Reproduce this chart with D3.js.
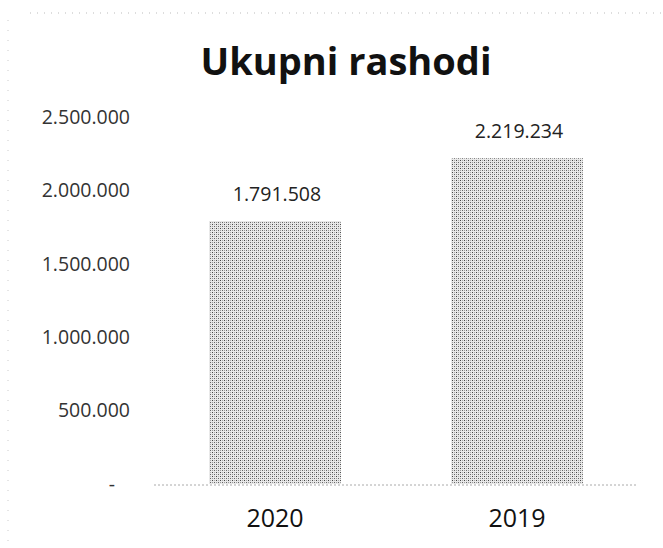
<!DOCTYPE html>
<html>
<head>
<meta charset="utf-8">
<script src="https://cdn.jsdelivr.net/npm/d3@7"></script>
<style>
  html, body { margin: 0; padding: 0; background: #fff; }
  svg { display: block; }
</style>
</head>
<body>
<div id="chart"></div>
<script>
const title = "Ukupni rashodi";
const categories = ["2020", "2019"];
const values = [1791508, 2219234];
const valueLabels = ["1.791.508", "2.219.234"];
const yTicks = [0, 500000, 1000000, 1500000, 2000000, 2500000];
const yTickLabels = ["-", "500.000", "1.000.000", "1.500.000", "2.000.000", "2.500.000"];

const W = 663, H = 548;
const svg = d3.select("#chart").append("svg").attr("width", W).attr("height", H);

// pattern for the stippled bars
const defs = svg.append("defs");
const pat = defs.append("pattern").attr("id", "stipple")
  .attr("patternUnits", "userSpaceOnUse").attr("width", 4).attr("height", 4);
pat.append("rect").attr("width", 4).attr("height", 4).attr("fill", "#e8e8e8");
pat.append("rect").attr("x", 0).attr("y", 0).attr("width", 1).attr("height", 1).attr("fill", "#444");
pat.append("rect").attr("x", 2).attr("y", 2).attr("width", 1).attr("height", 1).attr("fill", "#666");
pat.append("rect").attr("x", 2).attr("y", 0).attr("width", 1).attr("height", 1).attr("fill", "#aaa");
pat.append("rect").attr("x", 0).attr("y", 2).attr("width", 1).attr("height", 1).attr("fill", "#999");

// faint scan borders
svg.append("line").attr("x1", 30).attr("x2", W).attr("y1", 13).attr("y2", 13)
  .attr("stroke", "#bbb").attr("stroke-width", 1).attr("stroke-dasharray", "1,6");
svg.append("line").attr("x1", 8).attr("x2", 8).attr("y1", 20).attr("y2", H)
  .attr("stroke", "#ccc").attr("stroke-width", 1).attr("stroke-dasharray", "1,9");

const x = d3.scaleBand().domain(categories).range([154, 638])
  .paddingInner(0.455).paddingOuter(0.2275);
const y = d3.scaleLinear().domain([0, 2500000]).range([484, 117]);

// title
svg.append("text").attr("x", 346).attr("y", 75)
  .attr("text-anchor", "middle")
  .style("font-family", "'Open Sans', sans-serif")
  .style("font-weight", "700").style("font-size", "38px").attr("fill", "#111")
  .text(title);

// y axis labels
const yAxis = d3.axisLeft(y).tickValues(yTicks)
  .tickFormat((d, i) => yTickLabels[i]).tickSize(0).tickPadding(0);
const gy = svg.append("g").attr("transform", "translate(130,0)").call(yAxis);
gy.select(".domain").remove();
gy.selectAll("text")
  .style("font-family", "'Open Sans', sans-serif")
  .style("font-size", "19.5px").attr("fill", "#333");
gy.selectAll(".tick").filter(d => d === 0).select("text").attr("dx", -15);

// baseline
svg.append("line").attr("x1", 154).attr("x2", 638).attr("y1", y(0) + 1).attr("y2", y(0) + 1)
  .attr("stroke", "#aaa").attr("stroke-width", 1).attr("stroke-dasharray", "2,2");

// bars
svg.selectAll("rect.bar").data(values).enter().append("rect")
  .attr("class", "bar")
  .attr("x", (d, i) => x(categories[i]))
  .attr("y", d => y(d))
  .attr("width", x.bandwidth())
  .attr("height", d => y(0) - y(d))
  .attr("fill", "url(#stipple)");

// value labels
svg.selectAll("text.val").data(values).enter().append("text")
  .attr("class", "val")
  .attr("x", (d, i) => x(categories[i]) + x.bandwidth() / 2 + 2)
  .attr("y", d => y(d) - 20)
  .attr("text-anchor", "middle")
  .style("font-family", "'Open Sans', sans-serif")
  .style("font-size", "19.5px").attr("fill", "#222")
  .text((d, i) => valueLabels[i]);

// x axis labels
const xAxis = d3.axisBottom(x).tickSize(0).tickPadding(0);
const gx = svg.append("g").attr("transform", "translate(0,509)").call(xAxis);
gx.select(".domain").remove();
gx.selectAll("text")
  .style("font-family", "'Open Sans', sans-serif")
  .style("font-size", "25px").attr("fill", "#111");
</script>
</body>
</html>
